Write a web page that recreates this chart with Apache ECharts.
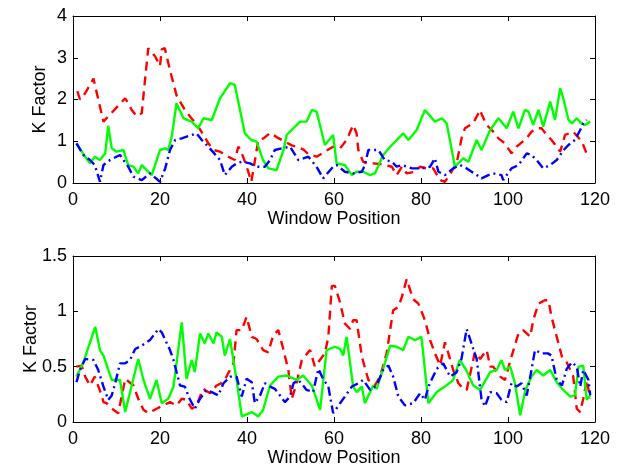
<!DOCTYPE html>
<html>
<head>
<meta charset="utf-8">
<script src="https://cdn.jsdelivr.net/npm/echarts@6/dist/echarts.min.js"></script>
<style>html,body{margin:0;padding:0;background:#fff}#c{width:624px;height:468px}</style>
</head>
<body>
<div id="c"></div>
<script>
// Top panel
var topRed = [[1,2.2],[1.6,2.0],[2.8,2.15],[4.7,2.5],[5,2.47],[7,1.47],[7.7,1.55],[12,2.03],[13.5,1.75],[14.6,1.6],[15.8,1.67],[16.2,2.1],[17.3,3.23],[18.9,3.03],[20,2.8],[20.4,3.2],[21.1,3.23],[22.3,2.7],[23.8,2.1],[25.7,1.75],[28.8,1.35],[30.3,1.1],[31.1,0.95],[32.3,0.79],[33.8,0.75],[35.7,0.63],[37.2,0.55],[38,0.87],[38.5,0.8],[39.9,0.4],[41,0.03],[42.6,1.03],[43.8,1.07],[45.3,1.2],[46.8,1.1],[50.3,0.9],[51.4,0.87],[53,0.8],[54,0.7],[56,0.63],[59.8,0.87],[61.4,0.83],[62.9,1.03],[64.4,1.39],[65.2,1.19],[65.6,0.79],[66.7,0.51],[67.5,0.47],[69,0.47],[71,0.45],[73.3,0.39],[74.4,0.19],[75.6,0.39],[76.7,0.23],[78.6,0.27],[79.8,0.39],[81.3,0.35],[82.8,0.35],[84.4,0.07],[85.5,0.03],[87,0.27],[88.2,0.47],[89.4,1.11],[90.1,1.31],[91.3,1.39],[92,1.43],[93.6,1.75],[94,1.63],[95.1,1.39],[96.6,1.23],[97.8,1.07],[99.3,0.95],[100.8,0.71],[102,0.87],[104.3,1.07],[105.4,1.23],[106.6,1.31],[107.7,1.31],[108.9,1.15],[110,1.03],[111.2,0.87],[112,0.75],[113.1,1.15],[115,1.23],[117,0.99],[118.5,0.59]];
var topGreen = [[0.8,0.95],[2.8,0.63],[3.9,0.47],[5,0.63],[6.2,0.55],[7.4,0.71],[8.1,1.37],[8.9,0.83],[10,0.75],[11.6,0.79],[12.7,0.43],[13.9,0.39],[15,0.23],[15.8,0.43],[18.1,0.19],[20,0.79],[21.2,0.83],[21.9,0.79],[22.7,1.11],[23.8,1.91],[25.4,1.55],[27.3,1.47],[28.8,1.31],[30,1.55],[31.9,1.51],[33.8,2.03],[36.1,2.39],[37.2,2.35],[39.5,1.19],[41,1.03],[42.2,0.99],[43.7,0.55],[44.9,0.35],[46.8,0.31],[48.4,0.79],[49.1,1.15],[52.2,1.47],[53.7,1.47],[54.9,1.75],[56,1.71],[57.9,0.91],[59.8,1.15],[60.6,0.47],[62.5,0.43],[64.1,0.19],[65.2,0.27],[66.7,0.27],[68.3,0.19],[69.4,0.23],[71.3,0.67],[73.3,0.91],[75.9,1.19],[77.1,1.03],[79,1.27],[80.9,1.75],[83.2,1.47],[84.8,1.55],[85.9,1.43],[87.8,0.39],[89.7,0.59],[90.9,0.51],[92.8,1.03],[93.9,0.79],[95.9,1.27],[97.8,1.55],[99.7,1.31],[101.2,1.71],[102.4,1.31],[103.9,1.75],[104.7,1.71],[105.8,1.39],[107,1.75],[108.1,1.35],[109.7,1.95],[110.8,1.51],[112,2.27],[112.8,1.99],[113.9,1.51],[114.7,1.43],[115.8,1.55],[116.9,1.43],[117.7,1.39],[118.9,1.47]];
var topBlue = [[0.8,0.95],[2.4,0.67],[3.9,0.55],[5,0.43],[6.2,0.03],[7,0.43],[8.5,0.55],[10.8,0.67],[12.7,0.39],[13.9,0.15],[15.8,0.07],[17.7,0.23],[20,0.03],[21.2,0.35],[22.3,0.79],[23.5,1.03],[25,1.07],[27.3,1.15],[28.4,1.19],[29.6,1.03],[31.1,0.87],[33.8,0.55],[34.9,0.19],[36.5,0.39],[37.6,0.47],[38.8,0.51],[40.7,0.47],[42.2,0.39],[44.1,0.39],[45.3,0.55],[46.4,0.79],[48,0.83],[49.9,0.87],[51.8,0.55],[54.1,0.63],[56,0.39],[57.5,0.11],[59.8,0.39],[60.6,0.43],[62.5,0.27],[64.4,0.23],[66.4,0.27],[67.1,0.43],[67.9,0.79],[70.2,0.79],[71.7,0.55],[73.3,0.51],[74.4,0.39],[75.6,0.43],[77.9,0.35],[80.2,0.35],[82.1,0.39],[83.2,0.59],[84,0.27],[85.5,0.19],[87.4,0.35],[89,0.43],[90.5,0.35],[92.8,0.19],[93.9,0.11],[95.5,0.19],[96.6,0.23],[98.5,0.19],[98.9,0.07],[100.8,0.35],[102.4,0.43],[104.3,0.71],[105.4,0.67],[106.6,0.55],[108.1,0.35],[109.7,0.43],[111.2,0.55],[112.8,0.79],[113.9,0.91],[115.4,1.03],[116.6,1.27],[117.3,1.43],[118.1,1.51]];
// Bottom panel
var botRed = [[0.8,0.5],[2,0.51],[2.8,0.41],[3.9,0.33],[5,0.41],[6.6,0.24],[7,0.18],[7.7,0.17],[9.3,0.11],[10.4,0.08],[12,0.39],[13.9,0.33],[15,0.21],[16.2,0.11],[17.3,0.08],[19.2,0.12],[20.8,0.15],[22.3,0.18],[23.8,0.15],[25,0.21],[26.1,0.2],[27.3,0.12],[28.4,0.15],[29.9,0.3],[31.5,0.26],[33,0.33],[34.6,0.36],[36.9,0.53],[37.6,0.83],[38.8,0.83],[39.9,0.95],[41.1,0.77],[42.2,0.75],[43.7,0.65],[44.9,0.63],[46,0.78],[47.2,0.83],[48.4,0.65],[49.5,0.47],[50.3,0.21],[51.4,0.35],[52.6,0.56],[54.5,0.65],[55.6,0.5],[57.9,0.62],[58.7,0.77],[59.5,1.23],[60.2,1.23],[61.4,1.08],[62.5,0.89],[63.7,0.84],[64.4,0.92],[65.2,0.92],[66.4,0.59],[67.9,0.38],[68.7,0.35],[69.4,0.33],[70.6,0.41],[72.1,0.62],[73.6,1.01],[74.8,1.04],[75.6,1.13],[76.7,1.29],[78.2,1.11],[79.4,1.07],[80.9,0.92],[82.1,0.74],[83.2,0.62],[84.4,0.51],[85.5,0.72],[86.3,0.62],[87.4,0.47],[88.6,0.35],[89.7,0.3],[90.5,0.29],[92.4,0.63],[93.6,0.57],[95.1,0.65],[95.9,0.5],[96.6,0.5],[98.2,0.41],[99.3,0.38],[100.8,0.59],[102.4,0.8],[103.5,0.83],[105.1,0.77],[105.8,0.92],[107,1.07],[108.5,1.1],[109.3,1.1],[110,0.95],[111.2,0.77],[112.4,0.59],[113.5,0.54],[115,0.41],[115.8,0.12],[116.6,0.09],[117.3,0.21],[118.1,0.38],[118.9,0.21]];
var botGreen = [[0.8,0.41],[2.4,0.54],[5.1,0.86],[6.2,0.65],[7,0.6],[8.9,0.38],[10.8,0.38],[12,0.09],[15,0.57],[16.2,0.38],[17.7,0.21],[19.2,0.38],[20.4,0.17],[21.9,0.21],[23.1,0.32],[25,0.9],[26.1,0.39],[27.3,0.56],[28,0.45],[29.2,0.8],[30.3,0.71],[31.1,0.8],[32.3,0.71],[33,0.81],[34.2,0.77],[34.9,0.6],[36.1,0.75],[37.6,0.38],[38.8,0.05],[41.1,0.09],[42.6,0.05],[43.7,0.11],[45.3,0.33],[47.2,0.41],[49.1,0.42],[51.4,0.38],[52.9,0.42],[54.9,0.33],[56.8,0.11],[58.3,0.65],[60.2,0.68],[61.4,0.66],[62.1,0.6],[62.9,0.77],[64.4,0.32],[65.2,0.27],[66.4,0.32],[67.1,0.17],[69,0.33],[69.8,0.3],[71.3,0.48],[72.9,0.69],[74.4,0.68],[75.9,0.65],[77.1,0.77],[78.6,0.74],[80.1,0.77],[81.7,0.17],[83.6,0.27],[85.5,0.32],[87.4,0.38],[88.9,0.56],[90.4,0.47],[92,0.33],[93.6,0.29],[95.9,0.45],[97.4,0.47],[98.5,0.56],[99.3,0.47],[100.5,0.5],[101.6,0.35],[102.8,0.06],[104,0.29],[105.4,0.41],[106.6,0.47],[108.1,0.42],[109.7,0.47],[111.2,0.36],[112.7,0.29],[114.3,0.23],[115.4,0.24],[116.2,0.5],[117.3,0.51],[118.1,0.2],[118.9,0.24]];
var botBlue = [[0.8,0.36],[1.6,0.47],[2.8,0.57],[4.7,0.56],[5.8,0.47],[7,0.32],[8.1,0.2],[8.9,0.24],[9.7,0.35],[10.8,0.53],[12,0.53],[13.1,0.56],[14.3,0.66],[15.8,0.69],[17.7,0.74],[19.6,0.84],[20.4,0.81],[22.3,0.65],[23.1,0.56],[24.6,0.33],[25.7,0.32],[26.8,0.21],[28,0.12],[29.2,0.21],[30.7,0.29],[31.9,0.27],[33.4,0.24],[34.6,0.35],[36.1,0.41],[37.6,0.41],[38.8,0.23],[39.9,0.39],[41.1,0.36],[41.8,0.17],[43,0.24],[44.1,0.35],[45.3,0.32],[46.4,0.3],[47.6,0.24],[48.7,0.18],[49.9,0.23],[50.7,0.35],[51.8,0.38],[52.9,0.33],[53.7,0.29],[55.2,0.27],[56.4,0.48],[57.5,0.39],[58.7,0.32],[59.8,0.08],[61.4,0.17],[62.5,0.23],[64.1,0.32],[65.6,0.35],[66.7,0.38],[68.3,0.29],[69.8,0.33],[71.3,0.47],[72.5,0.51],[73.6,0.41],[74.8,0.23],[76.3,0.15],[78.2,0.17],[79.8,0.26],[80.9,0.2],[81.7,0.32],[83.6,0.48],[85.1,0.53],[86.7,0.41],[88.2,0.45],[89.3,0.57],[90.5,0.84],[91.6,0.71],[92.8,0.57],[93.9,0.21],[94.7,0.14],[95.9,0.27],[97.4,0.26],[98.5,0.2],[99.7,0.18],[100.8,0.35],[102,0.32],[103.1,0.35],[104.3,0.24],[105.4,0.47],[106.2,0.65],[107.7,0.62],[109.2,0.62],[110,0.6],[111.2,0.38],[112.4,0.33],[113.5,0.48],[114.7,0.54],[115.8,0.5],[116.6,0.32],[117.3,0.47],[118.5,0.38],[118.9,0.24]];

var xTicks = {min: 0, max: 120, interval: 20};
var yTopTicks = {min: 0, max: 4, interval: 1};
var yBotTicks = {min: 0, max: 1.5, interval: 0.5};
var xLabel = 'Window Position';
var yLabel = 'K Factor';

var FONT = 'Liberation Sans, Arial, sans-serif';

function xAx(gi, pos) {
  var lab = pos === 'bottom';
  return {type: 'value', gridIndex: gi, position: pos, min: xTicks.min, max: xTicks.max, interval: xTicks.interval,
    axisLine: {show: true, onZero: false, lineStyle: {color: '#000'}},
    axisTick: {show: true, inside: true, length: 5, lineStyle: {color: '#000'}},
    splitLine: {show: false},
    axisLabel: lab ? {show: true, margin: 8, color: '#000', fontSize: 18, fontFamily: FONT} : {show: false}};
}
function yAx(gi, pos, t) {
  var lab = pos === 'left';
  return {type: 'value', gridIndex: gi, position: pos, min: t.min, max: t.max, interval: t.interval,
    axisLine: {show: true, onZero: false, lineStyle: {color: '#000'}},
    axisTick: {show: true, inside: true, length: 5, lineStyle: {color: '#000'}},
    splitLine: {show: false},
    axisLabel: lab ? {show: true, margin: 6, color: '#000', fontSize: 18, fontFamily: FONT} : {show: false}};
}
function ser(data, xi, yi, color, type) {
  return {type: 'line', data: data, xAxisIndex: xi, yAxisIndex: yi, symbol: 'none',
    lineStyle: {color: color, width: 2.4, type: type}};
}
var dash = [9, 6];
var dashDot = [9, 4, 2, 4];

var chart = echarts.init(document.getElementById('c'));
chart.setOption({
  animation: false,
  grid: [
    {left: 73, top: 16, width: 522, height: 167},
    {left: 73, top: 256, width: 522, height: 166}
  ],
  xAxis: [xAx(0, 'bottom'), xAx(0, 'top'), xAx(1, 'bottom'), xAx(1, 'top')],
  yAxis: [yAx(0, 'left', yTopTicks), yAx(0, 'right', yTopTicks), yAx(1, 'left', yBotTicks), yAx(1, 'right', yBotTicks)],
  series: [
    ser(topRed, 0, 0, '#ff0000', dash),
    ser(topGreen, 0, 0, '#00ff00', 'solid'),
    ser(topBlue, 0, 0, '#0000ff', dashDot),
    ser(botRed, 2, 2, '#ff0000', dash),
    ser(botGreen, 2, 2, '#00ff00', 'solid'),
    ser(botBlue, 2, 2, '#0000ff', dashDot),
    {type: 'line', data: [[xTicks.min, yTopTicks.min]], xAxisIndex: 1, yAxisIndex: 1, symbol: 'none', lineStyle: {opacity: 0}},
    {type: 'line', data: [[xTicks.min, yBotTicks.min]], xAxisIndex: 3, yAxisIndex: 3, symbol: 'none', lineStyle: {opacity: 0}}
  ]
});

// Axis titles, placed relative to each grid through the chart's own scales
function titles(gi, yT, yTitleOffset) {
  var pBL = chart.convertToPixel({gridIndex: gi}, [xTicks.min, yT.min]);
  var pTR = chart.convertToPixel({gridIndex: gi}, [xTicks.max, yT.max]);
  var cx = (pBL[0] + pTR[0]) / 2, cy = (pBL[1] + pTR[1]) / 2;
  var st = {fontSize: 18, fontFamily: FONT, fill: '#000', align: 'center', verticalAlign: 'middle'};
  return [
    {type: 'text', x: cx, y: pBL[1] + 36, silent: true, style: Object.assign({text: xLabel}, st)},
    {type: 'text', x: pBL[0] - yTitleOffset, y: cy, rotation: Math.PI / 2, silent: true, style: Object.assign({text: yLabel}, st)}
  ];
}
chart.setOption({graphic: titles(0, yTopTicks, 33).concat(titles(1, yBotTicks, 42))});
</script>
</body>
</html>
